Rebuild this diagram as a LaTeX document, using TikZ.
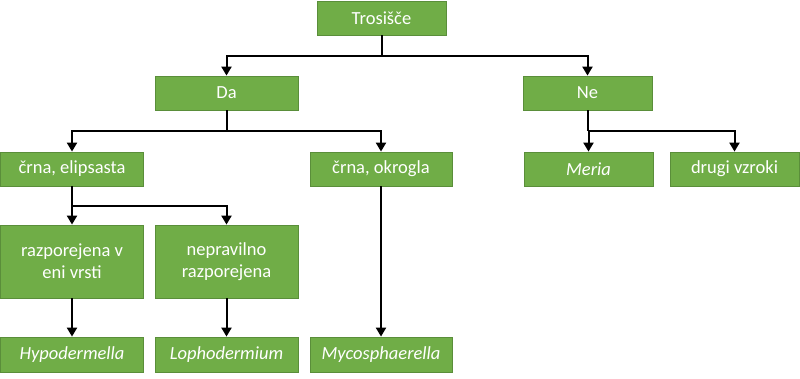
\documentclass[tikz,border=0pt]{standalone}
\usepackage{fontspec}
\setmainfont{Carlito}
\usetikzlibrary{arrows.meta}
\definecolor{boxfill}{HTML}{70AD47}
\definecolor{boxline}{HTML}{5A8E3A}
\begin{document}
\begin{tikzpicture}[x=1pt,y=-1pt,
  box/.style={draw=boxline,line width=0.8pt,fill=boxfill,text=white,font=\fontsize{18.5}{22}\selectfont,align=center,inner sep=0pt},
  conn/.style={line width=2pt,-{Triangle[width=10pt,length=9pt]}},
  plain/.style={line width=2pt}]
\useasboundingbox (0,0) rectangle (800,378);
\node[box,minimum width=129pt,minimum height=34pt] (tro) at (381.5,18) {Trosišče};
\node[box,minimum width=143pt,minimum height=34pt] (da) at (226.5,93) {Da};
\node[box,minimum width=129pt,minimum height=34pt] (ne) at (587.5,93) {Ne};
\node[box,minimum width=143pt,minimum height=34pt] (ce) at (72,169) {črna, elipsasta};
\node[box,minimum width=142pt,minimum height=34pt] (co) at (381,169) {črna, okrogla};
\node[box,minimum width=129pt,minimum height=34pt] (me) at (588.5,169) {\itshape Meria};
\node[box,minimum width=129pt,minimum height=34pt] (dv) at (734.5,169) {drugi vzroki};
\node[box,minimum width=143pt,minimum height=73pt] (rv) at (72,261.5) {razporejena v\\eni vrsti};
\node[box,minimum width=143pt,minimum height=73pt] (nr) at (226.5,261.5) {nepravilno\\razporejena};
\node[box,minimum width=143pt,minimum height=35pt] (hy) at (72,354.5) {\itshape Hypodermella};
\node[box,minimum width=143pt,minimum height=35pt] (lo) at (226.5,354.5) {\itshape Lophodermium};
\node[box,minimum width=142pt,minimum height=35pt] (my) at (381,354.5) {\itshape Mycosphaerella};
% level 1
\coordinate (j1) at (381.5,56);
\draw[plain] (tro.south) -- (j1);
\draw[conn] (j1) -| (da.north);
\draw[conn] (j1) -| (ne.north);
% Da children
\coordinate (j2) at (226.5,131);
\draw[plain] (da.south) -- (j2);
\draw[conn] (j2) -| (ce.north);
\draw[conn] (j2) -| (co.north);
% Ne children
\coordinate (j3) at (587.5,131);
\draw[plain] (ne.south) -- (j3);
\draw[conn] (j3) -| (me.north);
\draw[conn] (j3) -| (dv.north);
% crna elipsasta children
\coordinate (j4) at (72,206);
\draw[plain] (ce.south) -- (j4);
\draw[conn] (j4) -- (rv.north);
\draw[conn] (j4) -| (nr.north);
% leaves
\draw[conn] (rv.south) -- (hy.north);
\draw[conn] (nr.south) -- (lo.north);
\draw[conn] (co.south) -- (my.north);
\end{tikzpicture}
\end{document}
